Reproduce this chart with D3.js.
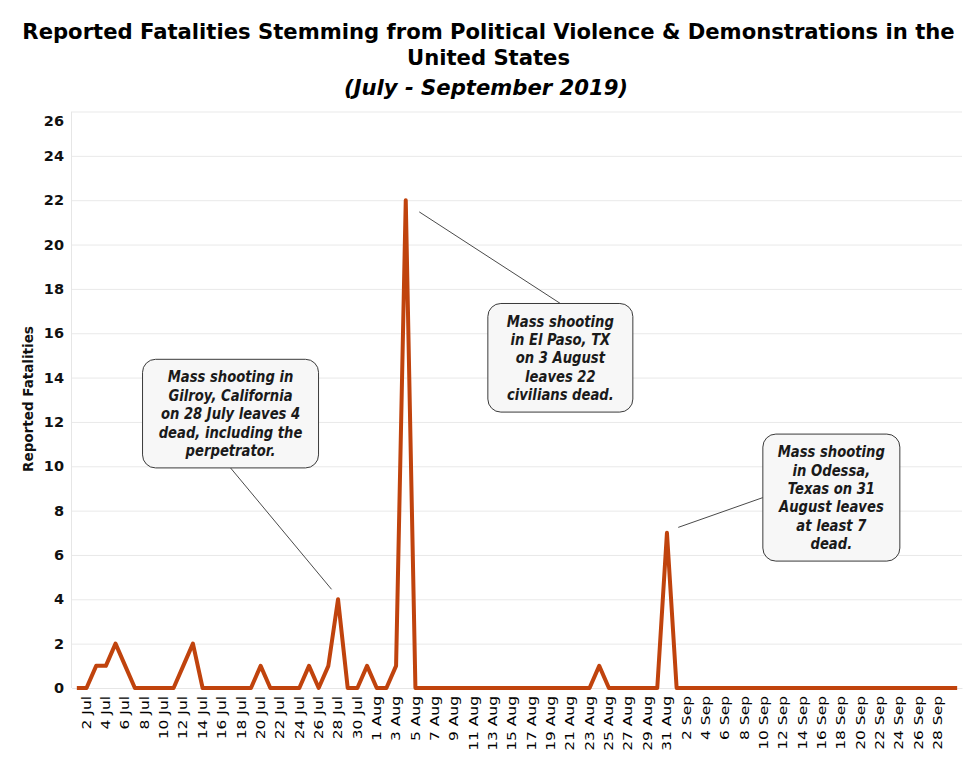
<!DOCTYPE html>
<html>
<head>
<meta charset="utf-8">
<script src="https://cdn.jsdelivr.net/npm/d3@7"></script>
<style>
  body { margin: 0; background: #ffffff; }
  svg { display: block; }
</style>
</head>
<body>
<svg id="chart" width="975" height="780"></svg>
<script>
// ---------------- DATA ----------------
const titleLines = ["Reported Fatalities Stemming from Political Violence & Demonstrations in the", "United States"];
const subtitle = "(July - September 2019)";
const yAxisTitle = "Reported Fatalities";

const categories = [
  "1 Jul","2 Jul","3 Jul","4 Jul","5 Jul","6 Jul","7 Jul","8 Jul","9 Jul","10 Jul",
  "11 Jul","12 Jul","13 Jul","14 Jul","15 Jul","16 Jul","17 Jul","18 Jul","19 Jul","20 Jul",
  "21 Jul","22 Jul","23 Jul","24 Jul","25 Jul","26 Jul","27 Jul","28 Jul","29 Jul","30 Jul","31 Jul",
  "1 Aug","2 Aug","3 Aug","4 Aug","5 Aug","6 Aug","7 Aug","8 Aug","9 Aug","10 Aug",
  "11 Aug","12 Aug","13 Aug","14 Aug","15 Aug","16 Aug","17 Aug","18 Aug","19 Aug","20 Aug",
  "21 Aug","22 Aug","23 Aug","24 Aug","25 Aug","26 Aug","27 Aug","28 Aug","29 Aug","30 Aug","31 Aug",
  "1 Sep","2 Sep","3 Sep","4 Sep","5 Sep","6 Sep","7 Sep","8 Sep","9 Sep","10 Sep",
  "11 Sep","12 Sep","13 Sep","14 Sep","15 Sep","16 Sep","17 Sep","18 Sep","19 Sep","20 Sep",
  "21 Sep","22 Sep","23 Sep","24 Sep","25 Sep","26 Sep","27 Sep","28 Sep","29 Sep","30 Sep"
];

const fatalities = [
  0,0,1,1,2,1,0,0,0,0,
  0,1,2,0,0,0,0,0,0,1,
  0,0,0,0,1,0,1,4,0,0,1,
  0,0,1,22,0,0,0,0,0,0,
  0,0,0,0,0,0,0,0,0,0,
  0,0,0,1,0,0,0,0,0,0,7,
  0,0,0,0,0,0,0,0,0,0,
  0,0,0,0,0,0,0,0,0,0,
  0,0,0,0,0,0,0,0,0,0
];

const xTickLabels = [
  "2 Jul","4 Jul","6 Jul","8 Jul","10 Jul","12 Jul","14 Jul","16 Jul","18 Jul","20 Jul",
  "22 Jul","24 Jul","26 Jul","28 Jul","30 Jul","1 Aug","3 Aug","5 Aug","7 Aug","9 Aug",
  "11 Aug","13 Aug","15 Aug","17 Aug","19 Aug","21 Aug","23 Aug","25 Aug","27 Aug","29 Aug",
  "31 Aug","2 Sep","4 Sep","6 Sep","8 Sep","10 Sep","12 Sep","14 Sep","16 Sep","18 Sep",
  "20 Sep","22 Sep","24 Sep","26 Sep","28 Sep"
];

const yTicks = [0,2,4,6,8,10,12,14,16,18,20,22,24,26];

const annotationDates = ["28 Jul", "4 Aug", "31 Aug"];
const annotationTexts = [
  ["Mass shooting in","Gilroy, California","on 28 July leaves 4","dead, including the","perpetrator."],
  ["Mass shooting","in El Paso, TX","on 3 August","leaves 22","civilians dead."],
  ["Mass shooting","in Odessa,","Texas on 31","August leaves","at least 7","dead."]
];

// ---------------- LAYOUT ----------------
const plot = { left: 72, right: 962, top: 111.5, bottom: 688 };
// offsets (pixels) of each callout box relative to its data point
const annLayout = [
  { dx: -107.5, top: -240, w: 176, start: [-6.5, -10], end: "bottom" },
  { dx: 154.6, top: 103.3, w: 145, start: [13.5, 11.7], end: "top" },
  { dx: 164.4, top: -98.7, w: 137, start: [11.3, -5.4], end: "left" }
];
const lineColor = "#c0430d";

const svg = d3.select("#chart");

const x = d3.scaleBand().domain(categories).range([plot.left, plot.right]);
const y = d3.scaleLinear().domain([0, 26]).range([plot.bottom, plot.top]);
const cx = d => x(d) + x.bandwidth() / 2;

// ---------------- TITLE ----------------
const titleG = svg.append("g").attr("font-family", "'DejaVu Sans', Verdana, sans-serif")
  .attr("font-weight", "bold").attr("font-size", 21).attr("fill", "#000");
const titleBaselines = [39, 65];
const t1 = titleG.append("text").attr("text-anchor", "middle").text(titleLines[0]);
const natural = t1.node().getComputedTextLength();
const hScale = 933 / natural;
titleLines.forEach((s, i) => {
  const t = i === 0 ? t1 : titleG.append("text").attr("text-anchor", "middle").text(s);
  t.attr("transform", `translate(488.5,${titleBaselines[i]}) scale(${hScale},1)`);
});
titleG.append("text").attr("text-anchor", "middle").attr("font-style", "italic")
  .attr("transform", `translate(486,95) scale(${hScale},1)`).text(subtitle);

// ---------------- Y AXIS / GRID ----------------
const yAxis = svg.append("g")
  .attr("transform", `translate(${plot.left},0)`)
  .call(d3.axisLeft(y).tickValues(yTicks).tickSize(-(plot.right - plot.left)).tickPadding(8));
yAxis.select(".domain").remove();
yAxis.selectAll(".tick line").attr("stroke", "#e9e9e9").attr("stroke-width", 1);
yAxis.selectAll(".tick text")
  .attr("font-family", "'DejaVu Sans', Verdana, sans-serif")
  .attr("font-weight", "bold").attr("font-size", 14.5).attr("fill", "#111");
yAxis.selectAll(".tick").filter(d => d === 26).select("text").attr("dy", "0.95em");

svg.append("line")
  .attr("x1", plot.left - 0.5).attr("x2", plot.left - 0.5)
  .attr("y1", plot.top).attr("y2", plot.bottom)
  .attr("stroke", "#e6e6e6");

svg.append("text")
  .attr("transform", `translate(33,399) rotate(-90)`)
  .attr("text-anchor", "middle")
  .attr("font-family", "'DejaVu Sans', Verdana, sans-serif")
  .attr("font-weight", "bold").attr("font-size", 13.5).attr("fill", "#111")
  .text(yAxisTitle);

// ---------------- X AXIS ----------------
const xAxis = svg.append("g")
  .attr("transform", `translate(0,${plot.bottom})`)
  .call(d3.axisBottom(x).tickValues(xTickLabels).tickSize(0).tickPadding(0));
xAxis.select(".domain").attr("stroke", "#e6e6e6");
xAxis.selectAll(".tick text")
  .attr("font-family", "'DejaVu Sans', Verdana, sans-serif")
  .attr("font-size", 15.5).attr("fill", "#000")
  .attr("text-anchor", "end")
  .attr("y", 0).attr("x", 0).attr("dy", "0.35em")
  .attr("transform", "translate(0,8) rotate(-90) scale(1,0.78)");

// ---------------- LINE ----------------
const series = categories.map((c, i) => ({ date: c, value: fatalities[i] }));
svg.append("path")
  .datum(series)
  .attr("fill", "none")
  .attr("stroke", lineColor)
  .attr("stroke-width", 4)
  .attr("stroke-linejoin", "round")
  .attr("d", d3.line().x(d => cx(d.date)).y(d => y(d.value)));

// ---------------- ANNOTATIONS ----------------
const lineH = 18.4;
annotationDates.forEach((dt, i) => {
  const idx = categories.indexOf(dt);
  const px = cx(dt), py = y(fatalities[idx]);
  const L = annLayout[i];
  const lines = annotationTexts[i];
  const h = lines.length * lineH + 16.6;
  const bx = px + L.dx - L.w / 2, by = py + L.top;
  const bcx = px + L.dx;
  let ex, ey;
  if (L.end === "bottom") { ex = bcx; ey = by + h; }
  else if (L.end === "top") { ex = bcx; ey = by; }
  else { ex = bx; ey = by + h / 2; }
  svg.append("line")
    .attr("x1", px + L.start[0]).attr("y1", py + L.start[1])
    .attr("x2", ex).attr("y2", ey)
    .attr("stroke", "#4a4a4a").attr("stroke-width", 1);
  svg.append("rect")
    .attr("x", bx).attr("y", by).attr("width", L.w).attr("height", h)
    .attr("rx", 13).attr("ry", 13)
    .attr("fill", "#f7f7f7").attr("stroke", "#3a3a3a").attr("stroke-width", 1);
  const g = svg.append("g")
    .attr("font-family", "'DejaVu Sans', Verdana, sans-serif")
    .attr("font-weight", "bold").attr("font-style", "italic")
    .attr("font-size", 15.5).attr("fill", "#1a1a1a").attr("text-anchor", "middle");
  lines.forEach((s, j) => {
    g.append("text")
      .attr("transform", `translate(${bcx},${by + 17.5 + j * lineH}) scale(0.85,1)`)
      .attr("dy", "0.36em")
      .text(s);
  });
});
</script>
</body>
</html>
